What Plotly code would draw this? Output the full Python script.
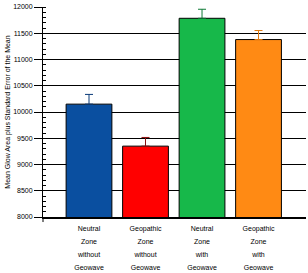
import plotly.graph_objects as go

categories = ["Neutral Zone without Geowave", "Geopathic Zone without Geowave",
              "Neutral Zone with Geowave", "Geopathic Zone with Geowave"]
label_lines = [["Neutral", "Zone", "without", "Geowave"],
               ["Geopathic", "Zone", "without", "Geowave"],
               ["Neutral", "Zone", "with", "Geowave"],
               ["Geopathic", "Zone", "with", "Geowave"]]
means = [10150, 9350, 11785, 11380]
sem = [185, 165, 172, 172]
bar_colors = ["#0A4FA0", "#FF0000", "#17B84A", "#FF8A14"]
err_colors = ["#0A3A78", "#8B1010", "#0E7A36", "#E07A10"]
yticks = [8000, 8500, 9000, 9500, 10000, 10500, 11000, 11500, 12000]

fig = go.Figure()
for i, c in enumerate(categories):
    fig.add_trace(go.Bar(
        x=[i], y=[means[i]], width=0.81,
        marker=dict(color=bar_colors[i], line=dict(color="black", width=1)),
        error_y=dict(type="data", array=[sem[i]], arrayminus=[0], symmetric=False,
                     color=err_colors[i], thickness=1, width=4),
        showlegend=False,
    ))

ticktext = ["<br>".join('<span style="font-size:7px">%s</span>' % w for w in ls)
            for ls in label_lines]

fig.add_shape(type="line", xref="paper", yref="paper", x0=0, x1=0, y0=0, y1=-0.024,
              line=dict(color="black", width=1))

fig.update_layout(
    width=308, height=273,
    margin=dict(l=43, r=2, t=7, b=49),
    paper_bgcolor="white", plot_bgcolor="white",
    font=dict(family="Arial, Liberation Sans, sans-serif", color="black", size=7),
    xaxis=dict(range=[-0.814, 3.84], tickvals=list(range(4)), ticktext=ticktext,
               tickfont=dict(size=10), showgrid=False, zeroline=False,
               showline=True, linecolor="black", linewidth=2, ticks="",
               ticklabelstandoff=0),
    yaxis=dict(range=[8000, 12000], tickvals=yticks, ticktext=[str(v) for v in yticks],
               showgrid=True, gridcolor="black",
               gridwidth=1, showline=True, linecolor="black", linewidth=1,
               ticks="outside", ticklen=8, tickcolor="black", tickwidth=1,
               tickfont=dict(size=7), zeroline=False,
               minor=dict(ticks="inside", ticklen=3, tickcolor="black", dtick=100,
                          showgrid=False),
               title=dict(text="Mean Glow Area plus Standard Error of the Mean",
                          font=dict(size=7), standoff=1)),
)

fig.write_html("out.html")
